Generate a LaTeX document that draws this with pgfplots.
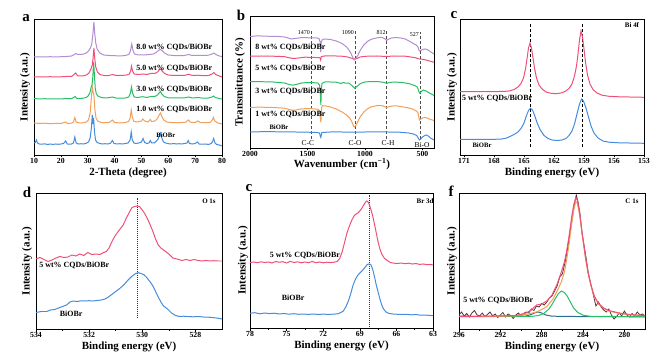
\documentclass[border=0pt]{standalone}
\usepackage{fontspec}
\setmainfont{Liberation Serif}
\usepackage{pgfplots}
\pgfplotsset{compat=1.18}
\definecolor{cpur}{RGB}{180,140,210}
\definecolor{cred}{RGB}{240,80,120}
\definecolor{cgre}{RGB}{40,190,100}
\definecolor{cora}{RGB}{240,160,90}
\definecolor{cblu}{RGB}{70,140,220}
\definecolor{craw}{RGB}{90,50,55}
\definecolor{ctea}{RGB}{40,110,140}
\newcommand{\tkf}{\bfseries\fontsize{7.8}{8}\selectfont}
\newcommand{\lbf}{\bfseries\fontsize{11}{12}\selectfont}
\newcommand{\anf}{\bfseries\fontsize{8}{9}\selectfont}
\newcommand{\smf}{\bfseries\fontsize{6.7}{7}\selectfont}
\newcommand{\ltf}{\bfseries\fontsize{15}{15}\selectfont}
\pgfplotsset{panel/.style={
  scale only axis, anchor=south west,
  axis line style={line width=0.8pt},
  tick align=outside, xtick pos=left, ytick=\empty,
  minor x tick num=1,
  major tick length=2.5bp, minor tick length=1.5bp,
  every tick/.style={black, line width=0.6pt},
  xticklabel style={font=\tkf, inner sep=1pt},
  /pgf/number format/assume math mode=true,
  /pgf/number format/1000 sep={},
  xlabel style={font=\lbf, at={(axis description cs:0.5,0)}, anchor=center, yshift=-18bp},
  ylabel style={font=\lbf, anchor=center},
  every axis plot/.append style={line width=1pt, mark=none},
  clip mode=individual,
}}
\begin{document}
\begin{tikzpicture}
\path[use as bounding box] (0,0) rectangle (664bp,358bp);
\node[font=\ltf] at (26bp,340bp) {a};
\node[font=\ltf] at (241bp,343bp) {b};
\node[font=\ltf] at (454bp,343bp) {c};
\node[font=\ltf] at (27bp,166bp) {d};
\node[font=\ltf] at (249bp,170bp) {c};
\node[font=\ltf] at (451bp,167bp) {f};
% ---------------- panel a ----------------
\begin{axis}[panel, at={(34bp,203bp)}, width=188bp, height=136bp,
  xmin=10, xmax=80, ymin=0, ymax=136, xtick={10,20,...,80},
  xlabel={2-Theta (degree)}, ylabel={Intensity (a.u.)},
  ylabel style={at={(axis description cs:-0.048,0.5)}}]
\addplot[cblu] coordinates {(10.0,12) (10.5,12.5) (10.9,15) (11.3,12) (12,11) (13,10.8) (14,11.2) (15,10.5) (16,11) (17,10.6) (18,11) (19,10.7) (20,11) (21,11.5) (21.8,14) (22.4,11) (23,10.8) (24,11) (24.7,12) (25.2,18) (25.7,12) (26.5,11) (27.5,11.3) (28.5,11) (29.5,11.8) (30.3,13) (30.9,17) (31.4,28) (31.7,40) (31.95,31) (32.2,37) (32.5,24) (32.9,15) (33.5,12.5) (34.5,11.5) (35.5,11) (36.5,11.3) (37.5,11) (38.5,11.8) (39.2,14.5) (39.8,11.5) (41,11) (42,11.3) (43,11) (44,11.5) (45,12) (45.8,15) (46.2,23) (46.6,15) (47.2,12) (48,11.5) (49,12) (50,13) (50.6,16.5) (51.2,12.5) (52,11.5) (52.8,12) (53.3,14.5) (53.8,12) (54.8,12) (55.6,14) (56.2,16) (56.7,20) (57.1,22) (57.6,17) (58.2,13) (59,12) (60,11.3) (61,11) (62,11.5) (63,11) (64,11.3) (65,11) (66,11.5) (67,12) (67.4,14.5) (67.9,11.5) (69,11) (70,11.5) (70.9,13) (71.5,11) (72.5,10.8) (74,11) (75,10.5) (76,11.5) (76.5,13.5) (76.9,16.5) (77.4,12) (78,10.5) (79,10) (80,9)};
\addplot[cora] coordinates {(10,32) (11,31.8) (12,31.5) (14,31.8) (16,31.3) (18,31.6) (20,31.5) (21.8,33) (22.5,31.6) (24,31.8) (24.7,33) (25.2,37.5) (25.7,33) (27,32) (28.5,32.3) (29.5,33) (30.3,35) (30.9,42) (31.3,55) (31.7,68) (32.0,63) (32.3,60) (32.7,45) (33.1,37) (33.7,34) (35,32.5) (36.5,32.3) (38,32.5) (39.2,35) (40,32.5) (42,32) (44,32.5) (45.2,33.5) (45.8,37) (46.2,45) (46.6,38) (47.2,33.5) (48.5,33) (50,34) (50.5,36) (51.2,34) (52.5,33) (53.3,35.5) (53.8,33.5) (55,34) (56,36.5) (56.6,40) (57.1,42) (57.6,38.5) (58.3,35) (59.5,33) (61,32.5) (63,32.3) (65,32.5) (66.5,32.8) (67.5,35) (68.2,32.8) (70,32.5) (71,34) (72,32.5) (74,32.3) (75.5,32.5) (76.3,34.5) (76.8,37.5) (77.3,34) (78.5,32) (80,31)};
\addplot[cgre] coordinates {(10,56.5) (12,56) (14,56.3) (16,56) (18,56.2) (20,56) (22,56.5) (24,56.3) (25.3,58.5) (26,56.5) (27.5,56.5) (29,57.2) (30,58.5) (30.8,62) (31.3,68) (31.6,70) (31.9,78) (32.2,93) (32.5,80) (32.8,67) (33.2,61) (34,58.5) (35.5,57.3) (37,57) (39.2,58) (40.5,57) (42,56.8) (44,57) (45.3,58) (45.9,62) (46.3,68) (46.7,62) (47.3,58) (48.5,57.5) (50.5,58.3) (52,57.5) (53.5,58.5) (55,58.5) (56,60) (56.6,62) (57.1,63.5) (57.6,61) (58.5,58.5) (60,57.2) (62,57) (64,57) (66,57) (67.5,58) (69,57) (71,57.5) (73,56.8) (75,57) (76.3,58) (76.9,59) (77.5,57.5) (79,56.5) (80,56)};
\addplot[cred] coordinates {(10,78) (12,78.2) (14,78) (16,78.3) (18,78) (20,78.2) (22,78.5) (24,78.5) (25.5,82) (26.3,79) (28,79) (29.5,80) (30.5,82) (31.2,86) (31.7,90) (32.0,97) (32.3,107) (32.6,97) (33,88) (33.6,83) (34.5,80.5) (36,79.5) (37.5,79.3) (39.3,80.5) (40.5,79.5) (42.5,79.5) (44.5,80) (45.5,81) (46,84) (46.3,89) (46.7,84) (47.3,81) (49,80.5) (50.5,81) (52,80.5) (53.5,81.5) (55,81.5) (56,83) (56.6,85) (57.1,86) (57.7,84) (58.6,81.5) (60,80) (62,79.5) (64,79.5) (66,79.5) (67.5,80.8) (69,79.5) (71,79.8) (73,79.3) (75,79.5) (76.3,81) (77,82.5) (77.6,80.5) (79,79) (80,78)};
\addplot[cpur] coordinates {(10,98) (12,98.2) (14,98) (16,98.3) (18,98) (20,98.3) (22,98.5) (24,99) (25,100.5) (25.6,101.5) (26.3,100.5) (27.5,100.5) (28.5,101) (29.5,102) (30.3,104) (31,107) (31.5,111) (31.9,120) (32.3,133) (32.6,122) (33,112) (33.5,106) (34.5,102) (36,100) (38,99.5) (40,99.3) (42,99) (44,99.5) (45.3,100.5) (45.9,104) (46.4,111) (46.8,105) (47.4,101) (49,100) (51,100) (53,100.5) (54.5,101) (55.5,102.5) (56.3,104.5) (57,105.5) (57.7,104.5) (58.6,102) (60,100) (62,99.5) (64,99.3) (66,99.5) (67.5,100.5) (69,99.5) (71,99.5) (73,99.5) (75,99.8) (76.3,101) (77,102) (77.7,100.5) (79,99) (80,98.5)};
\node[font=\anf, anchor=west] at (axis cs:46.8,108) {8.0 wt\% CQDs/BiOBr};
\node[font=\anf, anchor=west] at (axis cs:46.8,87) {5.0 wt\% CQDs/BiOBr};
\node[font=\anf, anchor=west] at (axis cs:46.8,66) {3.0 wt\% CQDs/BiOBr};
\node[font=\anf, anchor=west] at (axis cs:46.8,46) {1.0 wt\% CQDs/BiOBr};
\node[font=\smf] at (axis cs:59.1,20) {BiOBr};
\end{axis}
% ---------------- panel b ----------------
\begin{axis}[panel, at={(250bp,210bp)}, width=184bp, height=131.5bp,
  xmin=400, xmax=2000, x dir=reverse, ymin=0, ymax=131.5, xtick={500,1000,1500,2000},
  xlabel={Wavenumber (cm\textsuperscript{−1})}, ylabel={Transmittance (\%)},
  xticklabel style={inner sep=0.5pt},
  xlabel style={yshift=2bp},
  ylabel style={at={(axis description cs:-0.054,0.5)}}]
\addplot[black!70, densely dashed, line width=0.5pt] coordinates {(1470,9) (1470,118)};
\addplot[black!70, densely dashed, line width=0.5pt] coordinates {(1087,9) (1087,118)};
\addplot[black!70, densely dashed, line width=0.5pt] coordinates {(811,9) (811,118)};
\addplot[black!70, densely dashed, line width=0.5pt] coordinates {(522,9) (522,116)};
\addplot[cblu] coordinates {(2000,16) (1900,16.3) (1800,16.3) (1700,16) (1600,16) (1500,15.8) (1420,15.5) (1395,15) (1388,11.5) (1384,10.5) (1380,13) (1375,15.5) (1300,16) (1200,16) (1100,15.8) (1000,16) (900,16.2) (800,16) (700,15.8) (620,15) (580,14) (550,12.5) (535,9.5) (527,8) (515,9) (500,11) (480,12.5) (465,13) (450,12) (430,10) (400,8)};
\addplot[cora] coordinates {(2000,40.7) (1900,40.8) (1800,40.5) (1700,39.8) (1660,38.5) (1630,37.7) (1600,38) (1560,39) (1500,39.5) (1450,39.2) (1410,38.8) (1395,37) (1388,30) (1384,25.7) (1380,33) (1376,41) (1370,42.3) (1340,42) (1300,41) (1250,39) (1200,36) (1160,33) (1130,29.5) (1110,25) (1095,21) (1080,22.5) (1060,27) (1040,31.5) (1010,36) (980,39) (950,41) (900,42.3) (850,42.3) (820,41) (812,40.2) (800,41) (760,42) (720,42) (680,41.3) (640,40.5) (600,39.5) (560,37.5) (540,35.5) (527,28) (515,29) (500,30) (480,30.5) (460,30) (430,28.5) (400,27.5)};
\addplot[cgre] coordinates {(2000,66.3) (1900,66.3) (1800,66) (1700,65) (1660,63.5) (1630,62.8) (1600,63.5) (1550,65) (1500,65.5) (1450,65.3) (1410,65) (1395,63) (1388,55) (1384,43) (1380,55) (1375,64.5) (1350,66) (1300,66) (1250,65.8) (1210,64.5) (1190,65.5) (1170,64.8) (1140,65) (1110,62) (1090,59.8) (1070,61.5) (1040,64.5) (1000,66) (950,66.5) (880,66.3) (830,65.5) (812,64.5) (790,65.5) (740,66) (680,65.5) (620,64.5) (570,62.5) (545,61) (527,55) (515,56) (495,58) (470,57) (440,55) (400,52.5)};
\addplot[cred] coordinates {(2000,91.8) (1900,92) (1800,91.8) (1700,91.3) (1650,90) (1620,89.5) (1580,90) (1520,90.8) (1450,90.6) (1400,90.3) (1390,90) (1385,88) (1380,91.5) (1350,92) (1300,92) (1250,92) (1200,91.8) (1150,91) (1110,89.5) (1090,89) (1070,89.5) (1040,91) (1000,91.7) (900,92) (812,91.5) (750,92) (650,91.8) (600,91) (560,90.2) (527,89) (500,88.7) (470,88) (440,87) (400,85.8)};
\addplot[cpur] coordinates {(2000,111.5) (1950,112) (1900,112) (1850,111.8) (1800,111.5) (1750,111.5) (1700,111) (1670,110) (1640,109) (1610,109.5) (1580,110) (1540,110.5) (1500,110.3) (1460,110) (1420,110) (1400,109.5) (1390,106) (1385,96) (1380,106) (1370,108.5) (1350,109) (1300,108.5) (1250,107) (1200,104.5) (1160,101) (1130,96.5) (1110,91.5) (1095,88) (1080,89.5) (1060,93) (1040,98) (1010,103) (980,106.5) (950,108.5) (920,109.5) (880,110.5) (850,110.5) (825,109) (812,107.5) (800,108.5) (770,110) (730,110.5) (690,110) (650,109) (610,106.5) (580,104.5) (555,103) (540,101) (527,97) (515,97.5) (500,98.5) (480,99) (460,98.5) (440,97) (420,95.5) (400,94)};
\node[font=\anf, anchor=west] at (axis cs:1983,101) {8 wt\% CQDs/BiOBr};
\node[font=\anf, anchor=west] at (axis cs:1983,80) {5 wt\% CQDs/BiOBr};
\node[font=\anf, anchor=west] at (axis cs:1983,57) {3 wt\% CQDs/BiOBr};
\node[font=\anf, anchor=west] at (axis cs:1983,34) {1 wt\% CQDs/BiOBr};
\node[font=\smf] at (axis cs:1748,21) {BiOBr};
\node[font=\fontsize{6}{6}\selectfont, anchor=east, inner sep=1pt] at (axis cs:1470,115) {1470};
\node[font=\fontsize{6}{6}\selectfont, anchor=east, inner sep=1pt] at (axis cs:1087,115) {1090};
\node[font=\fontsize{6}{6}\selectfont, anchor=east, inner sep=1pt] at (axis cs:811,115) {812};
\node[font=\fontsize{6}{6}\selectfont, anchor=east, inner sep=1pt] at (axis cs:522,113) {527};
\node[font=\fontsize{7.5}{8}\selectfont] at (axis cs:1496,5) {C-C};
\node[font=\fontsize{7.5}{8}\selectfont] at (axis cs:1087,5) {C-O};
\node[font=\fontsize{7.5}{8}\selectfont] at (axis cs:800,5) {C-H};
\node[font=\fontsize{7.5}{8}\selectfont] at (axis cs:504,2.5) {Bi-O};
\end{axis}
% ---------------- panel c ----------------
\begin{axis}[panel, at={(460bp,203bp)}, width=184bp, height=136bp,
  xmin=153, xmax=171.4, x dir=reverse, ymin=0, ymax=136, xtick={153,156,...,171},
  xlabel={Binding energy (eV)}, ylabel={Intensity (a.u.)},
  ylabel style={at={(axis description cs:-0.043,0.5)}}]
\addplot[black, densely dashed, line width=0.6pt] coordinates {(164.4,8) (164.4,132)};
\addplot[black, densely dashed, line width=0.6pt] coordinates {(159.2,8) (159.2,132)};
\addplot[cred] coordinates {(171.4,63.4) (170,63.4) (169,63.5) (168,63.4) (167,63.6) (166.5,64) (166,65.5) (165.6,68) (165.3,71.5) (165.05,77) (164.85,86) (164.7,96) (164.55,107) (164.4,112) (164.25,107) (164.1,97) (163.95,87) (163.75,77) (163.5,70) (163.2,66) (162.8,63) (162.3,61.7) (161.8,61.3) (161.3,62) (160.9,63.5) (160.5,66.5) (160.2,71) (159.95,79) (159.75,89) (159.6,101) (159.45,115) (159.3,124) (159.15,118) (159.0,106) (158.85,93) (158.65,80) (158.4,71) (158.1,65.5) (157.7,62) (157.2,59.8) (156.5,58.7) (155.5,58.2) (154.5,58) (153,57.7)};
\addplot[cblu] coordinates {(171.4,15.7) (170,15.7) (169,15.6) (168,15.7) (167.3,15.9) (166.8,16.8) (166.4,18.5) (166.0,20.5) (165.6,23) (165.3,26.5) (165.0,32) (164.75,39.5) (164.55,44.5) (164.35,46.7) (164.15,45) (163.95,40) (163.7,32.5) (163.4,25.5) (163.0,19.5) (162.6,16.5) (162.2,15) (161.7,14.5) (161.2,15) (160.8,16.5) (160.5,19.5) (160.2,24) (159.95,31) (159.7,41) (159.45,51) (159.25,56) (159.05,54) (158.8,47) (158.55,38) (158.3,29) (158.0,22) (157.6,17) (157.1,14) (156.5,12.8) (155.5,12.2) (154.5,12) (153,11.7)};
\node[font=\fontsize{7}{8}\selectfont\bfseries] at (axis cs:154.2,130) {Bi 4f};
\node[font=\anf, anchor=west, inner sep=1pt] at (axis cs:171.3,57) {5 wt\% CQDs/BiOBr};
\node[font=\smf] at (axis cs:169.2,10) {BiOBr};
\end{axis}
% ---------------- panel d ----------------
\begin{axis}[panel, at={(36bp,29bp)}, width=186bp, height=136bp,
  xmin=527, xmax=534, x dir=reverse, ymin=0, ymax=136, xtick={528,530,532,534},
  xlabel={Binding energy (eV)}, ylabel={Intensity (a.u.)},
  ylabel style={at={(axis description cs:-0.048,0.5)}}]
\addplot[black!80, densely dotted, line width=0.7pt] coordinates {(530.18,11) (530.18,131)};
\addplot[cred] coordinates {(534.0,70) (533.85,71.5) (533.7,69.5) (533.55,67.5) (533.4,69) (533.25,71) (533.1,72.5) (532.95,71.5) (532.8,72) (532.65,74) (532.5,73) (532.35,75) (532.2,73.5) (532.05,76.5) (531.9,74.5) (531.75,75) (531.6,74.5) (531.45,76.5) (531.35,77.5) (531.25,81) (531.15,87) (531.05,92) (530.95,96) (530.85,99.5) (530.72,104) (530.6,111) (530.5,116) (530.4,121) (530.3,122.5) (530.2,123) (530.1,122.3) (530.0,119) (529.9,115) (529.8,110) (529.7,104) (529.6,97.5) (529.5,90) (529.4,84) (529.3,81) (529.15,78) (529.0,75) (528.85,71) (528.7,70) (528.5,68.5) (528.35,69.5) (528.2,68.5) (528.05,69.5) (527.9,68.5) (527.75,68) (527.6,68.5) (527.45,68) (527.3,68.3) (527.15,68) (527.0,68)};
\addplot[cblu] coordinates {(534.0,16.5) (533.8,17.5) (533.6,17.5) (533.45,19) (533.3,19.5) (533.15,21) (533.0,22.5) (532.85,24) (532.72,27) (532.6,28) (532.45,27.5) (532.3,28.2) (532.15,28) (532.0,28.3) (531.85,28) (531.7,28.5) (531.55,29) (531.4,30) (531.3,31.5) (531.15,34.5) (531.0,37.5) (530.85,40.5) (530.7,44) (530.55,48.5) (530.4,52.5) (530.25,55.5) (530.15,56.3) (530.05,55.5) (529.95,54.5) (529.85,52) (529.7,47) (529.6,43) (529.5,37.5) (529.4,32) (529.3,27) (529.2,23) (529.05,20) (528.9,16) (528.75,13.5) (528.6,12.5) (528.45,12.8) (528.3,12.5) (528.1,12.2) (527.9,12.5) (527.7,12) (527.5,11.8) (527.3,11.3) (527.15,10.8) (527.0,10)};
\node[font=\fontsize{7}{8}\selectfont\bfseries] at (axis cs:527.49,128) {O 1s};
\node[font=\anf, anchor=west, inner sep=1pt] at (axis cs:533.92,64) {5 wt\% CQDs/BiOBr};
\node[font=\anf] at (axis cs:532.68,15.7) {BiOBr};
\end{axis}
% ---------------- panel e ----------------
\begin{axis}[panel, at={(250bp,30bp)}, width=183bp, height=135bp,
  xmin=63, xmax=78, x dir=reverse, ymin=0, ymax=135, xtick={63,66,...,78},
  xlabel={Binding energy (eV)}, ylabel={Intensity (a.u.)},
  ylabel style={at={(axis description cs:-0.038,0.5)}}]
\addplot[black!80, densely dotted, line width=0.7pt] coordinates {(68.24,1) (68.24,133)};
\addplot[cred] coordinates {(78.0,65.5) (77.7,66) (77.4,65.3) (77.1,66.2) (76.8,65.5) (76.5,66) (76.2,65) (75.9,66.5) (75.6,65.8) (75.3,66.3) (75.0,65) (74.7,66.7) (74.4,65.5) (74.1,66.2) (73.8,65.2) (73.5,66) (73.2,65.4) (72.9,66.5) (72.6,65.3) (72.3,66) (72.0,65.2) (71.7,65.8) (71.4,65.4) (71.1,65.8) (70.85,66.5) (70.65,69.5) (70.45,76) (70.25,85.5) (70.05,95) (69.85,102) (69.65,108) (69.45,112.5) (69.3,114) (69.15,115) (69.0,117) (68.85,119.5) (68.7,122.5) (68.55,125.5) (68.45,127) (68.35,126.5) (68.24,124) (68.1,119) (67.95,112.5) (67.8,104) (67.65,95) (67.5,86) (67.35,79) (67.2,74) (67.0,70) (66.8,68) (66.5,65.5) (66.2,64.8) (65.9,64.5) (65.6,65) (65.3,64.3) (65.0,64.8) (64.7,64) (64.4,64.5) (64.1,63.6) (63.8,64) (63.5,63.3) (63.2,63.5) (63.0,63)};
\addplot[cblu] coordinates {(78.0,14.7) (77.6,15.3) (77.2,14.2) (76.8,15) (76.4,14.4) (76.0,14.8) (75.6,14) (75.2,14.5) (74.8,13.8) (74.4,14.3) (74.0,13.7) (73.6,14) (73.2,13.6) (72.8,14) (72.4,13.5) (72.0,13.9) (71.6,13.6) (71.2,13.8) (70.8,14.2) (70.55,15.5) (70.35,17) (70.15,21) (69.95,26.5) (69.75,34) (69.55,43) (69.35,49) (69.15,53) (68.95,55.5) (68.75,58) (68.55,61) (68.4,63.5) (68.25,64) (68.1,63.5) (67.95,59) (67.8,51.5) (67.65,43) (67.5,36) (67.35,29) (67.2,23) (67.05,19) (66.85,16) (66.65,14.7) (66.3,14) (66.0,13.8) (65.6,13.5) (65.2,13.7) (64.8,13.2) (64.4,13.4) (64.0,12.8) (63.6,12.9) (63.2,12.5) (63.0,12.3)};
\node[font=\fontsize{7}{8}\selectfont\bfseries] at (axis cs:63.65,127) {Br 3d};
\node[font=\anf] at (axis cs:73.5,73) {5 wt\% CQDs/BiOBr};
\node[font=\anf] at (axis cs:74.47,30) {BiOBr};
\end{axis}
% ---------------- panel f ----------------
\begin{axis}[panel, at={(459bp,29bp)}, width=186bp, height=136bp,
  xmin=278, xmax=296, x dir=reverse, ymin=0, ymax=136, xtick={280,284,...,296},
  xlabel={Binding energy (eV)}, ylabel={Intensity (a.u.)},
  ylabel style={at={(axis description cs:-0.038,0.5)}}]
\addplot[craw, line width=0.8pt] coordinates {(296.0,14) (295.75,17) (295.5,13) (295.25,15.5) (295.0,12) (294.75,16) (294.5,18.5) (294.25,14) (294.0,13) (293.75,16) (293.5,12.5) (293.25,14.5) (293.0,17) (292.75,13) (292.5,15) (292.25,11.5) (292.0,14) (291.75,16.5) (291.5,12) (291.25,15) (291.0,13.5) (290.75,10.5) (290.5,14) (290.25,16) (290.0,13) (289.75,15.5) (289.5,17) (289.25,16) (289.0,20) (288.75,18.5) (288.5,23) (288.25,22) (288.0,25.5) (287.75,24) (287.5,27) (287.25,31) (287.0,33) (286.75,38) (286.5,43) (286.25,52) (286.0,55) (285.75,66) (285.5,80) (285.25,97) (285.0,113) (284.8,127) (284.65,134) (284.5,128) (284.3,116) (284.1,96) (283.9,84) (283.7,71) (283.5,57) (283.25,45) (283.0,34) (282.75,23) (282.5,27) (282.25,22) (282.0,19) (281.75,17) (281.5,20) (281.25,14) (281.0,10) (280.75,12.5) (280.5,16) (280.25,13) (280.0,18) (279.75,14) (279.5,12) (279.25,15.5) (279.0,13) (278.75,17) (278.5,14) (278.25,15) (278.0,13)};
\addplot[ctea] coordinates {(296,12.8) (292,12.6) (289.5,13) (289.0,14.5) (288.6,16.5) (288.3,17) (288.0,16) (287.6,14) (287.0,12.8) (284,12.4) (278,12.2)};
\addplot[cgre] coordinates {(296,12.4) (289,12.6) (288.3,13.5) (287.8,15.5) (287.3,20) (287.0,24.5) (286.7,30) (286.4,35) (286.1,38) (285.8,36.5) (285.5,32.5) (285.2,26.5) (284.9,21) (284.5,16.5) (284.0,13.8) (283.3,12.7) (278,12.3)};
\addplot[cora] coordinates {(296,12.4) (293,12.6) (290.5,13.2) (289.5,14.5) (288.5,17) (288.0,19.5) (287.5,22.5) (286.9,30) (286.5,38) (286.1,47) (285.8,57) (285.6,68) (285.35,85) (285.1,105) (284.9,119) (284.7,127.5) (284.55,126) (284.35,115) (284.15,100) (284.0,88) (283.75,70) (283.5,55) (283.2,42) (282.9,32) (282.5,25) (282.0,20.5) (281.5,18) (280.5,15.5) (279.5,14.2) (278,13.2)};
\addplot[cred] coordinates {(296,12.6) (293,12.8) (290.5,13.5) (289.5,16) (289.0,19) (288.5,24) (288.0,25) (287.5,28) (287.0,34) (286.5,45) (286.1,57) (285.8,67) (285.6,77) (285.35,93) (285.1,112) (284.9,124) (284.7,131) (284.55,129) (284.35,118) (284.15,102) (284.0,90) (283.75,71) (283.5,56) (283.2,43) (282.9,33) (282.5,25.5) (282.0,21) (281.5,18.5) (280.5,16) (279.5,14.5) (278,13.5)};
\node[font=\fontsize{7}{8}\selectfont\bfseries] at (axis cs:279.26,128) {C 1s};
\node[font=\anf] at (axis cs:292.2,29) {5 wt\% CQDs/BiOBr};
\end{axis}
\end{tikzpicture}
\end{document}
